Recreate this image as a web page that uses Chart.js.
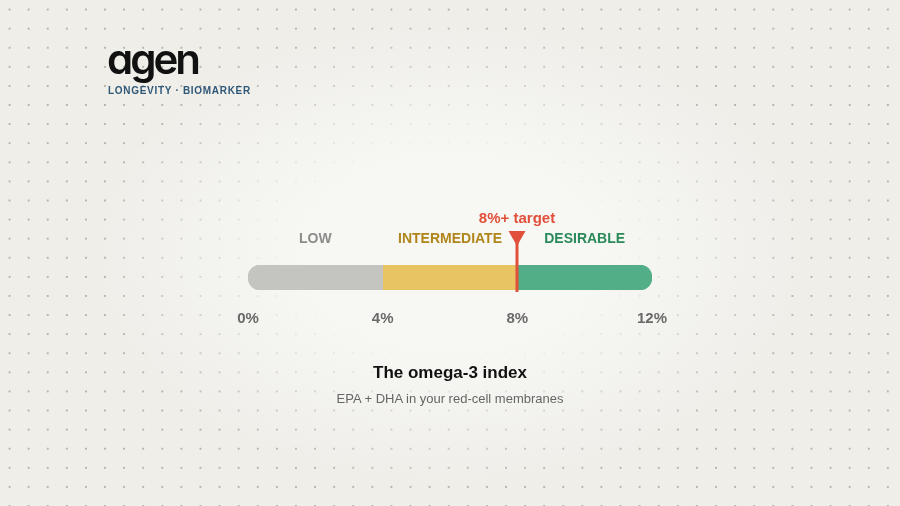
<!DOCTYPE html>
<html>
<head>
<meta charset="utf-8">
<script src="https://cdn.jsdelivr.net/npm/chart.js@4.4.1/dist/chart.umd.min.js"></script>
<style>
  html, body { margin: 0; padding: 0; }
  body {
    width: 900px; height: 506px; overflow: hidden; position: relative;
    font-family: "Liberation Sans", Arial, sans-serif;
    background:
      radial-gradient(ellipse 40% 46% at 50% 50%, rgba(247,247,244,1) 40%, rgba(247,247,244,0) 100%),
      radial-gradient(circle, #b4b3ac 0.7px, rgba(180,179,172,0) 1.2px) 0 0 / 19.1px 19.1px,
      #efeee9;
  }
  #chart { position: absolute; left: 0; top: 0; }
  .logo {
    position: absolute; left: 107px; top: 37px;
    font-family: Inter, sans-serif; font-weight: 600; font-size: 42px; line-height: 44px;
    letter-spacing: -3px; color: #111; font-feature-settings: "cv11" 1;
  }
  .tag {
    position: absolute; left: 108px; top: 85px;
    font-size: 10px; line-height: 11px; font-weight: 700; letter-spacing: 0.7px; color: #2f5878;
  }
  .title {
    position: absolute; left: 0; width: 900px; top: 363px; text-align: center;
    font-size: 17px; line-height: 20px; font-weight: 700; color: #111;
  }
  .sub {
    position: absolute; left: 0; width: 900px; top: 391px; text-align: center;
    font-size: 13px; line-height: 16px; color: #666;
  }
</style>
</head>
<body>
<canvas id="chart" width="900" height="506"></canvas>
<div class="logo">agen</div>
<div class="tag">LONGEVITY · BIOMARKER</div>
<div class="title">The omega-3 index</div>
<div class="sub">EPA + DHA in your red-cell membranes</div>
<script>
// zones of the omega-3 index, in percent
const zoneNames = ['LOW', 'INTERMEDIATE', 'DESIRABLE'];
const zoneRanges = [[0, 4], [4, 8], [8, 12]];
const tickValues = [0, 4, 8, 12];
const targetValue = 8;
const targetLabel = '8%+ target';

const zoneColors = ['#c4c4c1', '#e9c463', '#52ae86'];
const zoneTextColors = ['#8c8c8a', '#b0861a', '#2a8a5a'];
const markerColor = '#e1503a';

// draws zone names above the bar and the target marker
const zonePlugin = {
    id: 'zones',
    afterDatasetsDraw(chart) {
        const ctx = chart.ctx;
        const x = chart.scales.x;
        const area = chart.chartArea;
        ctx.save();
        ctx.textAlign = 'center';
        ctx.textBaseline = 'middle';
        ctx.font = 'bold 14px "Liberation Sans", Arial, sans-serif';
        zoneNames.forEach(function(name, i) {
            const mid = x.getPixelForValue((zoneRanges[i][0] + zoneRanges[i][1]) / 2);
            ctx.fillStyle = zoneTextColors[i];
            ctx.fillText(name, mid, area.top - 26);
        });

        const tx = Math.round(x.getPixelForValue(targetValue));
        ctx.fillStyle = markerColor;
        ctx.fillRect(tx - 1.5, area.top - 22, 3, area.bottom - area.top + 24);
        ctx.beginPath();
        ctx.moveTo(tx - 8.5, area.top - 34);
        ctx.lineTo(tx + 8.5, area.top - 34);
        ctx.lineTo(tx, area.top - 19);
        ctx.closePath();
        ctx.fill();
        ctx.font = 'bold 15px "Liberation Sans", Arial, sans-serif';
        ctx.fillText(targetLabel, tx, area.top - 46);
        ctx.restore();
    }
};

const last = zoneNames.length - 1;
const datasets = zoneNames.map(function(name, i) {
    return {
        label: name,
        data: [zoneRanges[i]],
        backgroundColor: zoneColors[i],
        grouped: false,
        barThickness: 25,
        borderSkipped: false,
        borderRadius: i === 0 ? { topLeft: 13, bottomLeft: 13 } : (i === last ? { topRight: 13, bottomRight: 13 } : 0)
    };
});

new Chart(document.getElementById('chart').getContext('2d'), {
    type: 'bar',
    data: { labels: ['omega-3'], datasets: datasets },
    options: {
        indexAxis: 'y',
        responsive: false,
        animation: false,
        layout: { padding: { top: 265, left: 248, right: 248, bottom: 166 } },
        scales: {
            x: {
                type: 'linear',
                min: 0,
                max: 12,
                afterBuildTicks: function(scale) {
                    scale.ticks = tickValues.map(function(v) { return { value: v }; });
                },
                afterFit: function(scale) { scale.height = 50; },
                grid: { display: false, drawTicks: false },
                border: { display: false },
                ticks: {
                    padding: 20,
                    color: '#6a6a6a',
                    font: { family: '"Liberation Sans", Arial, sans-serif', size: 15, weight: 'bold' },
                    callback: function(value) { return value + '%'; }
                }
            },
            y: { display: false }
        },
        plugins: {
            legend: { display: false },
            tooltip: { enabled: false }
        }
    },
    plugins: [zonePlugin]
});
</script>
</body>
</html>
